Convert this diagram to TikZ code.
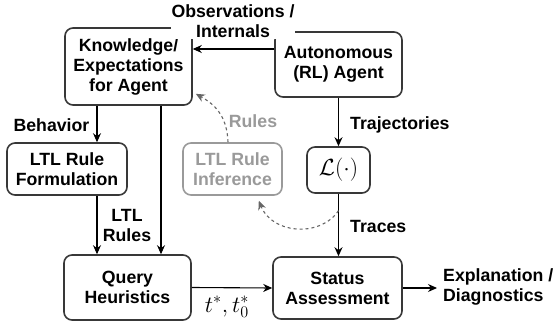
\documentclass[tikz,border=0pt]{standalone}
\usepackage{fontspec}
\setmainfont{Liberation Sans}
\usetikzlibrary{arrows.meta,calc}
\definecolor{boxc}{HTML}{383838}
\definecolor{grayc}{HTML}{9A9A9A}
\definecolor{dashc}{HTML}{666666}
\begin{document}
\begin{tikzpicture}[x=1pt,y=-1pt,
  font=\fontsize{17.7}{20}\selectfont\bfseries,
  box/.style={draw=boxc, line width=1.6pt, rounded corners=8pt, align=center, inner sep=2pt, fill=white},
  graybox/.style={box, draw=grayc, text=grayc},
  arr/.style={-{Stealth[length=9pt,width=8pt]}, line width=1.1pt, black},
  darr/.style={-{Stealth[length=9pt,width=8pt]}, line width=1.1pt, dashc, dashed},
  lbl/.style={fill=white, inner sep=1pt, align=center},
  ]
\useasboundingbox (0,0) rectangle (554,326);

\node[box, minimum width=127pt, minimum height=77pt] (know) at (128.5,66.5) {Knowledge/\\Expectations\\for Agent};
\node[box, minimum width=127pt, minimum height=65pt] (agent) at (338.5,64.5) {Autonomous\\(RL) Agent};
\node[box, minimum width=120pt, minimum height=52pt] (form) at (67,169) {LTL Rule\\Formulation};
\node[graybox, minimum width=99pt, minimum height=52pt] (infer) at (232.5,169) {LTL Rule\\Inference};
\node[box, minimum width=63pt, minimum height=46pt] (L) at (338.5,170) {\scalebox{1.35}{$\mathcal{L}(\cdot)$}};
\node[box, minimum width=127pt, minimum height=65pt] (query) at (127.5,287.5) {Query\\Heuristics};
\node[box, minimum width=129pt, minimum height=62pt] (status) at (337.5,288) {Status\\Assessment};
\node[lbl, align=left, anchor=west] (expl) at (442,287) {Explanation /\\Diagnostics};

% Observations
\draw[arr] ([yshift=15.5pt]agent.west) coordinate (o) -- (o -| know.east);
\node[lbl] (obs) at (233,21.5) {Observations /\\Internals};

% Behavior
\draw[arr] ([xshift=-31.5pt]know.south) -- ([xshift=30pt]form.north);
\node[lbl] (beh) at (51.5,125) {Behavior};

% knowledge to query
\draw[arr] ([xshift=32.5pt]know.south) -- ([xshift=33.5pt]query.north);

% LTL rules
\draw[arr] ([xshift=30pt]form.south) -- ([xshift=-30.5pt]query.north);
\node[lbl] (ltlr) at (127,225) {LTL\\Rules};

% trajectories
\draw[arr] (agent.south) -- (L.north);
\node[lbl, anchor=west] (traj) at (349,125) {Trajectories};

% traces
\draw[arr] (L.south) -- (L.south |- status.north);
\node[lbl, anchor=west] (trc) at (349,226) {Traces};

% query to status
\draw[arr] (query.east) -- (status.west);
\node[inner sep=0pt] (tt) at (227,307) {\scalebox{1.35}{$t^*, t_0^*$}};

% status to explanation
\draw[arr] (status.east) -- ([xshift=-5pt]expl.west |- status.east);

% dashed curves
\coordinate (trp) at ($(L.south)!0.27!(L.south |- status.north)$);
\coordinate (inb) at ($(infer.south east)+(-24,5)$);
\draw[darr] (trp) .. controls (320,238) and (272,234) .. (inb);
\coordinate (kn) at ($(know.south east)+(3,-12)$);
\draw[darr] ([xshift=-4.5pt]infer.north) .. controls (227,115) and (214,104) .. (kn);
\node[lbl, text=grayc] (rul) at (253,121) {Rules};
\end{tikzpicture}
\end{document}
